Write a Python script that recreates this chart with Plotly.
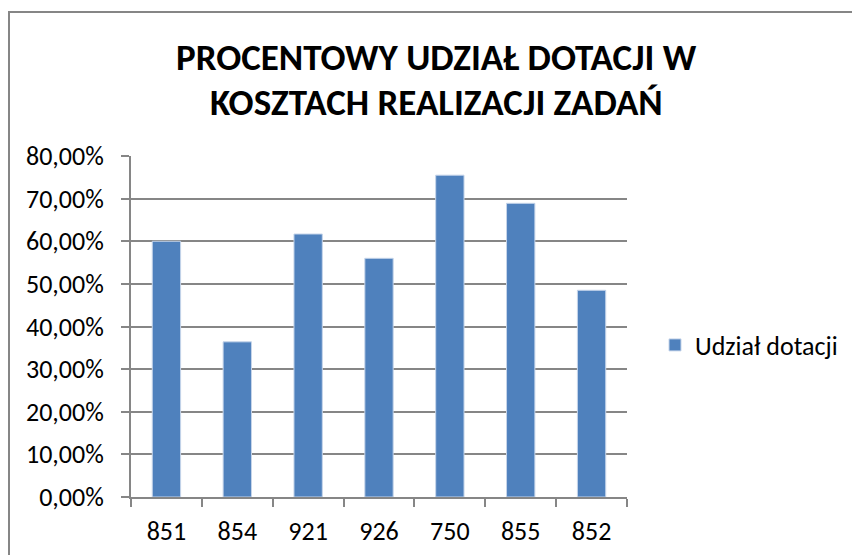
import plotly.graph_objects as go

categories = ["851", "854", "921", "926", "750", "855", "852"]
udzial_dotacji = [0.600, 0.364, 0.617, 0.560, 0.755, 0.689, 0.485]
series_name = "Udział dotacji"
title_lines = ["PROCENTOWY UDZIAŁ DOTACJI W", "KOSZTACH REALIZACJI ZADAŃ"]
y_ticks = [0, 0.1, 0.2, 0.3, 0.4, 0.5, 0.6, 0.7, 0.8]

W, H = 852, 555
PL, PR, PT, PB = 131, 627, 156, 497  # plot area in pixels
L, T, R, B = PL, PT, W - PR, H - PB
pw, ph = PR - PL, PB - PT


def px(xp):
    return (xp - PL) / pw


def py(yp):
    return (PB - yp) / ph


FONT = "Carlito, Calibri, 'Open Sans', sans-serif"
GRID = "#868686"

fig = go.Figure()
fig.add_trace(go.Bar(
    x=categories, y=udzial_dotacji, name=series_name,
    marker=dict(color="#4F81BD", line=dict(color="#C6D5EA", width=1)),
    showlegend=True,
))

fig.update_layout(
    width=W, height=H,
    margin=dict(l=L, r=R, t=T, b=B, pad=0, autoexpand=False),
    paper_bgcolor="white", plot_bgcolor="white",
    separators=", ",
    bargap=0.6,
    font=dict(family=FONT, size=26, color="black"),
    showlegend=True,
    legend=dict(x=px(655), xanchor="left", y=py(345), yanchor="middle",
                font=dict(family=FONT, size=26, color="black"),
                bgcolor="rgba(0,0,0,0)"),
    annotations=[
        dict(text="<b>" + title_lines[0] + "</b>", xref="paper", yref="paper",
             x=px(436), y=py(57), xanchor="center", yanchor="middle",
             showarrow=False, font=dict(family=FONT, size=37, color="black")),
        dict(text="<b>" + title_lines[1] + "</b>", xref="paper", yref="paper",
             x=px(436), y=py(103), xanchor="center", yanchor="middle",
             showarrow=False, font=dict(family=FONT, size=37, color="black")),
    ],
    shapes=[dict(type="rect", xref="paper", yref="paper",
                 x0=px(9), x1=px(1200), y0=py(900), y1=py(12),
                 line=dict(color=GRID, width=2), fillcolor="rgba(0,0,0,0)", layer="below")],
)

fig.update_yaxes(
    range=[0, 0.8], tickvals=y_ticks, tickformat=".2%",
    showgrid=True, gridcolor=GRID, gridwidth=2,
    showline=True, linecolor=GRID, linewidth=2,
    ticks="outside", ticklen=8, tickcolor=GRID, tickwidth=2,
    ticklabelstandoff=12, zeroline=False, automargin=False,
    tickfont=dict(family=FONT, size=26, color="black"),
)
fig.update_xaxes(
    showline=True, linecolor=GRID, linewidth=2,
    ticks="outside", ticklen=8, tickcolor=GRID, tickwidth=2,
    tickson="boundaries", showgrid=False, automargin=False,
    ticklabelstandoff=10,
    tickfont=dict(family=FONT, size=26, color="black"),
)

fig.write_html(
    "out.html",
    config={"displayModeBar": False},
    post_script="document.body.style.margin='0';document.body.style.overflow='hidden';",
)
